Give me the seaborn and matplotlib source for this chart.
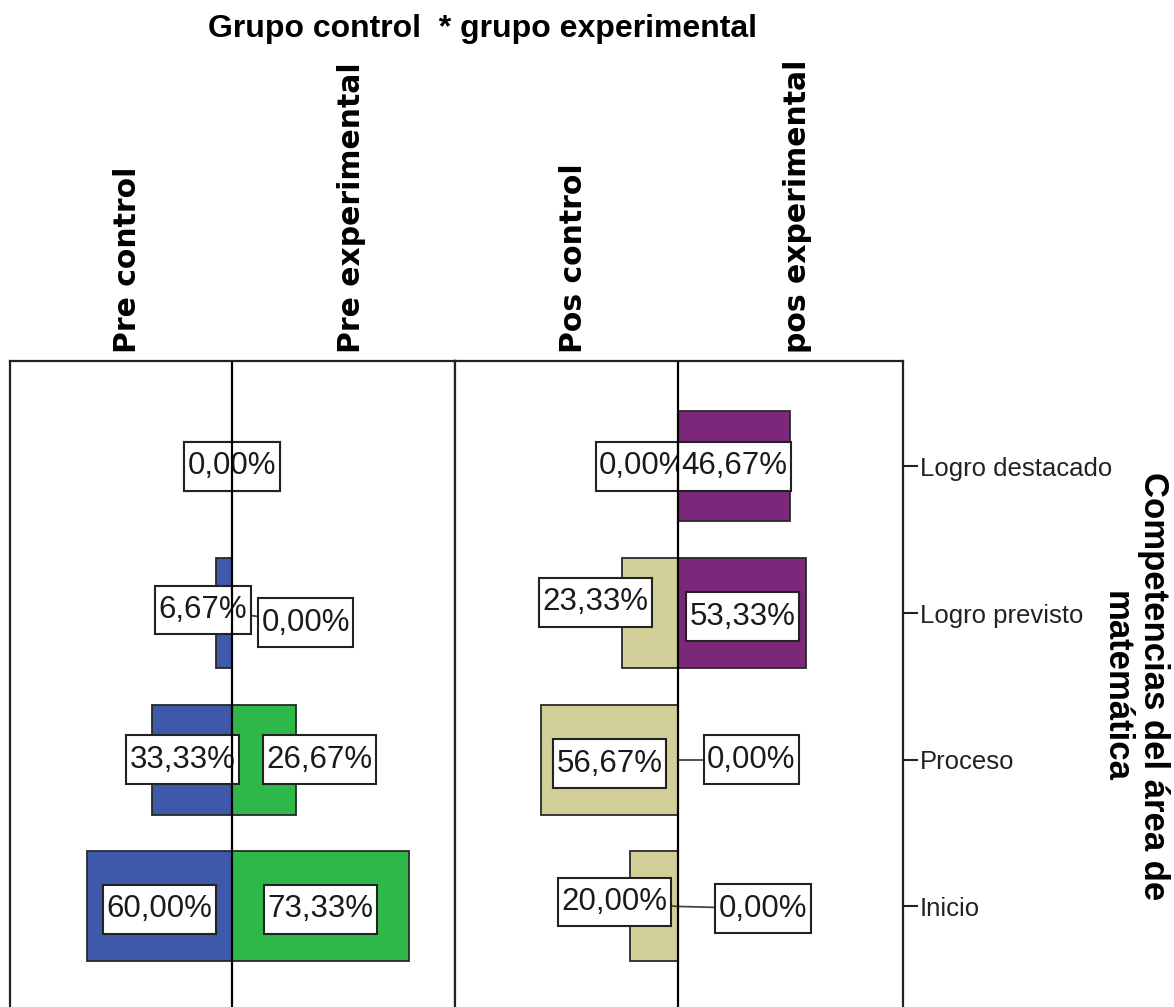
import matplotlib
matplotlib.use("Agg")
import matplotlib.pyplot as plt
from matplotlib.path import Path
import seaborn as sns
import pandas as pd

# Porcentajes por nivel de logro y grupo
categorias = ["Logro destacado", "Logro previsto", "Proceso", "Inicio"]
pre_control = [0.00, 6.67, 33.33, 60.00]
pre_experimental = [0.00, 0.00, 26.67, 73.33]
pos_control = [0.00, 23.33, 56.67, 20.00]
pos_experimental = [46.67, 53.33, 0.00, 0.00]

grupos = ["Pre control", "Pre experimental", "Pos control", "pos experimental"]
colores = {
    "Pre control": "#3E58AA",
    "Pre experimental": "#2EB84A",
    "Pos control": "#D3CF98",
    "pos experimental": "#7B287B",
}

titulo = "Grupo control  * grupo experimental"
titulo_eje = "Competencias del área de\nmatemática"

# Posición de cada etiqueta (x en %, desplazamiento vertical en unidades de categoría)
# None en x => centrada en la barra
etiquetas_pos = {
    "Pre control": [(0.0, 0.0), (-12.0, -0.02), (-20.5, 0.0), (None, 0.02)],
    "Pre experimental": [(0.0, 0.0), (30.5, 0.066), (36.1, 0.0), (None, 0.02)],
    "Pos control": [(-14.3, 0.0), (-34.2, -0.073), (None, 0.026), (-26.3, -0.03)],
    "pos experimental": [(None, 0.0), (None, 0.025), (30.5, 0.0), (35.3, 0.015)],
}
con_guia = {
    "Pre control": [False, False, False, False],
    "Pre experimental": [False, True, False, False],
    "Pos control": [False, False, False, True],
    "pos experimental": [False, False, True, True],
}


def caja_etiqueta(x0, y0, width, height, mutation_size):
    """Rectángulo con más margen vertical que horizontal."""
    px = 0.11 * mutation_size
    py = 0.30 * mutation_size
    x0, y0 = x0 - px, y0 - py
    x1, y1 = x0 + width + 2 * px, y0 + height + 2 * py
    return Path([(x0, y0), (x1, y0), (x1, y1), (x0, y1), (x0, y0)],
                closed=True)


W, H = 1174, 1007
fig = plt.figure(figsize=(W / 100, H / 100), dpi=100)
sns.set_style("white")
plt.rcParams["font.family"] = ["Liberation Sans", "DejaVu Sans"]

y_top, y_bot = 361, 1010
ax_h = (y_bot - y_top) / H
ax_y0 = 1 - y_bot / H
ax_pre = fig.add_axes([10 / W, ax_y0, 445 / W, ax_h])
ax_pos = fig.add_axes([455 / W, ax_y0, 448 / W, ax_h])

paneles = [
    (ax_pre, ("Pre control", pre_control), ("Pre experimental", pre_experimental), (-92.1, 92.5)),
    (ax_pos, ("Pos control", pos_control), ("pos experimental", pos_experimental), (-92.5, 93.4)),
]


def fmt(v):
    return f"{v:.2f}".replace(".", ",") + "%"


for ax, (g_izq, v_izq), (g_der, v_der), xlim in paneles:
    df = pd.DataFrame({
        "categoria": categorias * 2,
        "valor": [-v for v in v_izq] + list(v_der),
        "grupo": [g_izq] * len(categorias) + [g_der] * len(categorias),
    })
    sns.barplot(
        data=df, x="valor", y="categoria", hue="grupo",
        order=categorias, hue_order=[g_izq, g_der], palette=colores,
        dodge=False, width=0.75, orient="h", errorbar=None,
        saturation=1, edgecolor="#2a2a2a", linewidth=1.3,
        legend=False, ax=ax, zorder=2,
    )
    ax.set_xlim(*xlim)
    ax.set_ylim(3.706, -0.718)
    ax.set_xlabel("")
    ax.set_ylabel("")
    ax.set_xticks([])
    for s in ax.spines.values():
        s.set_color("#222222")
        s.set_linewidth(1.6)
    ax.spines["bottom"].set_visible(False)

    # etiquetas de valor
    for grupo, valores, signo in ((g_izq, v_izq, -1), (g_der, v_der, 1)):
        for i, v in enumerate(valores):
            lx, dy = etiquetas_pos[grupo][i]
            if lx is None:
                lx = signo * v / 2
            ly = i + dy
            if con_guia[grupo][i]:
                ax.plot([0, lx], [i, ly], color="#444444", lw=1.3, zorder=3)
            ax.text(lx, ly, fmt(v), ha="center", va="center", fontsize=22.5,
                    family="Liberation Sans", color="#1a1a1a", zorder=5,
                    bbox=dict(boxstyle=caja_etiqueta, fc="white",
                              ec="#222222", lw=1.5))

    ax.axvline(0, color="black", lw=1.6, zorder=6)

ax_pre.set_yticks([])
ax_pos.yaxis.tick_right()
ax_pos.tick_params(axis="y", which="both", right=True, left=False,
                   length=11, width=1.5, pad=1, labelsize=18.5,
                   colors="#222222", direction="out")
ax_pos.set_yticks(range(len(categorias)))
ax_pos.set_yticklabels(categorias, family="Liberation Sans")

# encabezados de columna
for gx, nombre in zip([127, 351, 573, 797], grupos):
    fig.text(gx / W, 1 - 353 / H, nombre, rotation=90, ha="center", va="bottom",
             fontsize=21.5, fontweight="bold", family="DejaVu Sans", color="black")

fig.text(482 / W, 1 - 29 / H, titulo, ha="center", va="center", fontsize=23,
         fontweight="bold", family="Liberation Sans", color="black")

fig.text(1135 / W, 1 - 686 / H, titulo_eje, rotation=270, ha="center", va="center",
         multialignment="center", fontsize=25, fontweight="bold",
         family="Liberation Sans", linespacing=1.15, color="black")

fig.savefig("out.png", dpi=100)
